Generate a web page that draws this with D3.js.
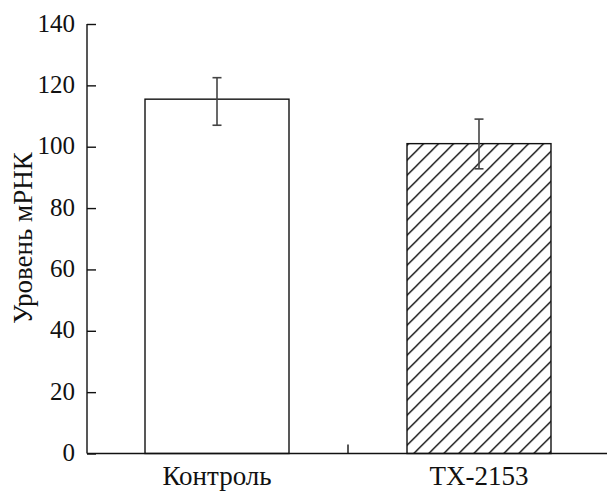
<!DOCTYPE html>
<html><head><meta charset="utf-8">
<script src="https://cdn.jsdelivr.net/npm/d3@7"></script>
<style>body{margin:0;background:#fff}svg{display:block}text{font-family:"Liberation Serif","DejaVu Serif",serif}</style>
</head><body>
<svg id="c" width="607" height="492"></svg>
<script>
const categories = ["Контроль", "TX-2153"];
const values = [115.5, 101];
const errLow = [107, 92.8];
const errHigh = [122.5, 109];
const yTicks = [0, 20, 40, 60, 80, 100, 120, 140];
const yLabel = "Уровень мРНК";

(function () {
const svg = d3.select("#c");
const fsTick = 25, fsLabel = 27;
const mLeft = 87, mRight = 607, mTop = 24, mBottom = 453.5;

const y = d3.scaleLinear().domain([0, 140]).range([mBottom, mTop]);
const x = d3.scaleBand().domain(categories).range([87, 609]).paddingInner(0.4504).paddingOuter(0.2214);

const defs = svg.append("defs");
const pat = defs.append("pattern").attr("id", "hatch").attr("patternUnits", "userSpaceOnUse")
  .attr("x", 12.3).attr("y", 0).attr("width", 15).attr("height", 15);
pat.append("path").attr("d", "M-3.75,3.75L3.75,-3.75M0,15L15,0M11.25,18.75L18.75,11.25")
  .attr("stroke", "#000").attr("stroke-width", 1.3);

const fills = ["#fff", "url(#hatch)"];

svg.selectAll("rect.bar").data(categories).join("rect").attr("class", "bar")
  .attr("x", d => x(d)).attr("width", x.bandwidth())
  .attr("y", (d, i) => y(values[i])).attr("height", (d, i) => y(0) - y(values[i]))
  .attr("fill", (d, i) => fills[i]).attr("stroke", "#111").attr("stroke-width", 1.4);

const eb = svg.append("g").attr("stroke", "#444").attr("stroke-width", 1.6).attr("fill", "none");
categories.forEach((c, i) => {
  const cx = x(c) + x.bandwidth() / 2;
  eb.append("line").attr("x1", cx).attr("x2", cx).attr("y1", y(errLow[i])).attr("y2", y(errHigh[i]));
  eb.append("line").attr("x1", cx - 4.5).attr("x2", cx + 4.5).attr("y1", y(errLow[i])).attr("y2", y(errLow[i]));
  eb.append("line").attr("x1", cx - 4.5).attr("x2", cx + 4.5).attr("y1", y(errHigh[i])).attr("y2", y(errHigh[i]));
});

const ya = svg.append("g").attr("transform", `translate(${mLeft},0)`)
  .call(d3.axisRight(y).tickValues(yTicks).tickSize(9).tickFormat(""));
ya.select(".domain").remove();
ya.selectAll(".tick line").attr("stroke", "#111").attr("stroke-width", 1.4);
svg.append("line").attr("x1", mLeft).attr("x2", mLeft).attr("y1", y(140)).attr("y2", mBottom)
  .attr("stroke", "#111").attr("stroke-width", 1.4);
svg.selectAll("text.yt").data(yTicks).join("text").attr("class", "yt")
  .attr("x", 75).attr("y", d => y(d)).attr("dy", "0.3em").attr("text-anchor", "end")
  .style("font-size", fsTick + "px").attr("fill", "#111").text(d => d);

svg.append("line").attr("x1", mLeft).attr("x2", mRight).attr("y1", mBottom).attr("y2", mBottom)
  .attr("stroke", "#111").attr("stroke-width", 1.4);
const midX = (x(categories[0]) + x.bandwidth() + x(categories[1])) / 2;
svg.append("line").attr("x1", midX).attr("x2", midX).attr("y1", mBottom).attr("y2", mBottom - 9)
  .attr("stroke", "#111").attr("stroke-width", 1.4);
svg.selectAll("text.xt").data(categories).join("text").attr("class", "xt")
  .attr("x", d => x(d) + x.bandwidth() / 2).attr("y", 485).attr("text-anchor", "middle")
  .style("font-size", fsLabel + "px").attr("fill", "#111").text(d => d);

svg.append("text").attr("transform", "translate(32,238) rotate(-90)")
  .attr("text-anchor", "middle").style("font-size", fsLabel + "px").attr("fill", "#111")
  .text(yLabel);
})();
</script>
</body></html>
